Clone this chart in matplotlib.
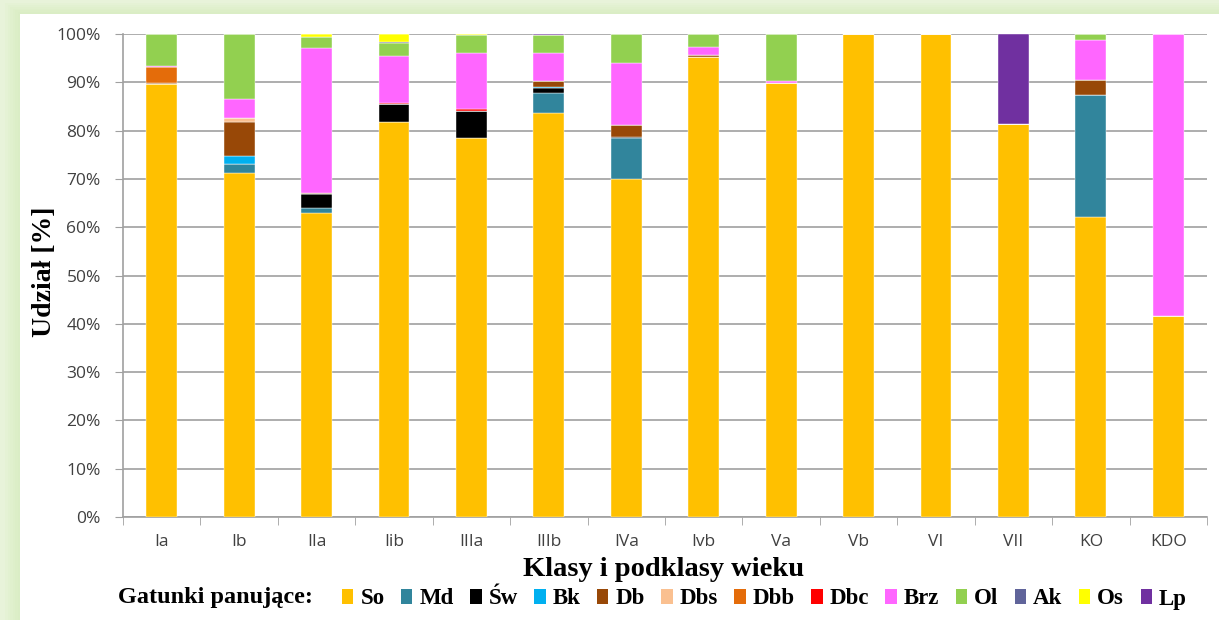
import matplotlib
matplotlib.use("Agg")
import matplotlib.pyplot as plt
from matplotlib.patches import Rectangle, Patch
import numpy as np

categories = ["Ia", "Ib", "IIa", "Iib", "IIIa", "IIIb", "IVa", "Ivb", "Va", "Vb", "VI", "VII", "KO", "KDO"]
species = ["So", "Md", "Św", "Bk", "Db", "Dbs", "Dbb", "Dbc", "Brz", "Ol", "Ak", "Os", "Lp"]

So  = [89.6, 71.2, 62.9, 81.8, 78.4, 83.7, 69.9, 95.3, 89.8, 100, 100, 81.4, 62.2, 41.6]
Md  = [0, 1.9, 1.1, 0, 0, 4.0, 8.5, 0, 0, 0, 0, 0, 25.2, 0]
Sw  = [0, 0, 2.8, 3.7, 5.7, 1.1, 0.3, 0, 0, 0, 0, 0, 0, 0]
Bk  = [0, 1.7, 0, 0, 0, 0.3, 0, 0, 0, 0, 0, 0, 0, 0]
Db  = [0.3, 6.9, 0.2, 0, 0, 1.2, 2.4, 0.3, 0, 0, 0, 0, 3.0, 0]
Dbs = [0, 1.0, 0, 0, 0, 0, 0, 0, 0, 0, 0, 0, 0, 0]
Dbb = [3.2, 0, 0, 0, 0, 0, 0, 0, 0, 0, 0, 0, 0, 0]
Dbc = [0, 0, 0, 0.3, 0.3, 0, 0, 0, 0, 0, 0, 0, 0, 0]
Brz = [0.3, 3.8, 30.1, 9.7, 11.7, 5.7, 12.8, 1.8, 0.4, 0, 0, 0, 8.4, 58.4]
Ol  = [6.6, 13.5, 2.3, 2.7, 3.6, 3.7, 6.1, 2.6, 9.8, 0, 0, 0, 1.2, 0]
Ak  = [0, 0, 0, 0.2, 0, 0, 0, 0, 0, 0, 0, 0, 0, 0]
Os  = [0, 0, 0.6, 1.6, 0.3, 0, 0, 0, 0, 0, 0, 0, 0, 0]
Lp  = [0, 0, 0, 0, 0, 0.3, 0, 0, 0, 0, 0, 18.6, 0, 0]

series = [So, Md, Sw, Bk, Db, Dbs, Dbb, Dbc, Brz, Ol, Ak, Os, Lp]
colors = ["#FFC000", "#31859C", "#000000", "#00B0F0", "#984807", "#FAC090",
          "#E46C0A", "#FF0000", "#FF66FF", "#92D050", "#60649A", "#FFFF00", "#7030A0"]

W, H = 1219, 620
fig = plt.figure(figsize=(W / 100, H / 100), dpi=100)
fig.patch.set_facecolor("white")

# green glow frame
fig.patches.append(Rectangle((0, 0), 1, 1, transform=fig.transFigure,
                             facecolor="#E8F3DA", edgecolor="none", zorder=-10))
for i in range(6):
    off = 6 - i
    fig.patches.append(Rectangle(((20 - off * 2.5) / W, 0), 1, 1 - (14 - off * 1.8) / H,
                                 transform=fig.transFigure, facecolor="#D2EBB8",
                                 alpha=0.12, edgecolor="none", zorder=-9))
fig.patches.append(Rectangle((20 / W, 0), 1, 1 - 14 / H, transform=fig.transFigure,
                             facecolor="white", edgecolor="none", zorder=-8))

ax = fig.add_axes([123 / W, 1 - 517 / H, (1207 - 123) / W, (517 - 34) / H])
x = np.arange(len(categories))
bottom = np.zeros(len(categories))
for name, vals, c in zip(species, series, colors):
    v = np.array(vals, dtype=float)
    ax.bar(x, v, 0.4, bottom=bottom, color=c, label=name, zorder=3,
           edgecolor="white", linewidth=0.3)
    bottom += v

ax.set_xlim(-0.5, len(categories) - 0.5)
ax.set_ylim(0, 100)
ax.set_yticks(np.arange(0, 101, 10))
ax.set_yticklabels([f"{v}%" for v in range(0, 101, 10)], fontsize=12.5,
                   family="Open Sans", color="#404040")
ax.set_xticks(x)
ax.set_xticklabels(categories, fontsize=12.5, family="Open Sans", color="#404040")
ax.tick_params(axis="x", length=0, pad=12)
ax.set_xticks(np.arange(-0.5, len(categories), 1), minor=True)
ax.tick_params(axis="x", which="minor", length=6, color="#A0A0A0")
ax.tick_params(axis="y", length=6, color="#A0A0A0", pad=10)
ax.grid(axis="y", color="#ADADAD", linewidth=1.4, zorder=0)
for s in ["top", "right"]:
    ax.spines[s].set_visible(False)
for s in ["left", "bottom"]:
    ax.spines[s].set_color("#A0A0A0")
    ax.spines[s].set_linewidth(1.2)

ax.set_ylabel("Udział [%]", fontsize=20, fontweight="bold", family="Liberation Serif")
ax.yaxis.set_label_coords((57 - 123) / (1207 - 123), (517 - 272) / (517 - 34))
fig.text(664 / W, 1 - 569 / H, "Klasy i podklasy wieku", ha="center", va="center",
         fontsize=20.5, fontweight="bold", family="Liberation Serif")

fig.text(118 / W, 1 - 598 / H, "Gatunki panujące:", ha="left", va="center",
         fontsize=17.5, fontweight="bold", family="Liberation Serif")
handles = [Patch(facecolor=c, edgecolor="none") for c in colors]
leg = fig.legend(handles, species, loc="center left", bbox_to_anchor=(326 / W, 1 - 599 / H),
                 ncol=len(species), frameon=False, handlelength=0.5, handleheight=0.6,
                 handletextpad=0.3, columnspacing=0.72, borderpad=0.2,
                 prop={"family": "Liberation Serif", "weight": "bold", "size": 16.5})

fig.savefig("out.png", dpi=100)
